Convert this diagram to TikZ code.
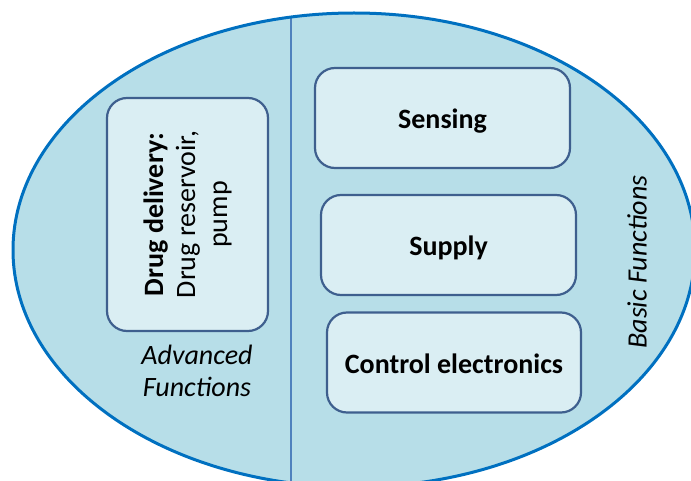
\documentclass[tikz,border=0pt]{standalone}
\usepackage{fontspec}
\setmainfont{Carlito}
\definecolor{shell}{HTML}{B7DEE8}
\definecolor{shellrim}{HTML}{0070C0}
\definecolor{split}{HTML}{4F81BD}
\definecolor{boxfill}{HTML}{DAEEF3}
\definecolor{boxrim}{HTML}{3E5F8E}
\tikzset{
  fn/.style={draw=boxrim, line width=2.2pt, fill=boxfill, rounded corners=20pt,
             align=center, inner sep=0pt, font=\fontsize{28}{32}\selectfont\bfseries},
  row/.style={fn, text height=26pt, text depth=5pt, minimum height=100pt},
  lbl/.style={align=center, font=\fontsize{28}{32}\selectfont\itshape},
}

\begin{document}
\begin{tikzpicture}[x=1pt, y=-1pt]
  \useasboundingbox (0,0) rectangle (691,481);
  % shell with the split between advanced and basic part
  \fill[shell] (354,250) ellipse [x radius=341, y radius=237];
  \begin{scope}
    \clip (354,250) ellipse [x radius=341, y radius=237];
    \draw[split, line width=1.6pt] (291,0) -- (291,481);
  \end{scope}
  \draw[shellrim, line width=3pt] (354,250) ellipse [x radius=341, y radius=237];

  \node[fn, rotate=90, minimum width=233pt, minimum height=161pt,
        font=\fontsize{28}{32}\selectfont] (drug) at (187.5,214.5)
    {\textbf{Drug delivery:}\\Drug reservoir,\\pump};
  \node[row, minimum width=255pt] (sense) at (442.5,118) {Sensing};
  \node[row, minimum width=255pt] (supply) at (448.5,245) {Supply};
  \node[row, minimum width=254pt] (ctrl) at (454,362.5) {Control electronics};

  \node[lbl] (adv) at (197,371) {Advanced\\Functions};
  \node[lbl, rotate=90] (basic) at (637,262) {Basic Functions};
\end{tikzpicture}
\end{document}
